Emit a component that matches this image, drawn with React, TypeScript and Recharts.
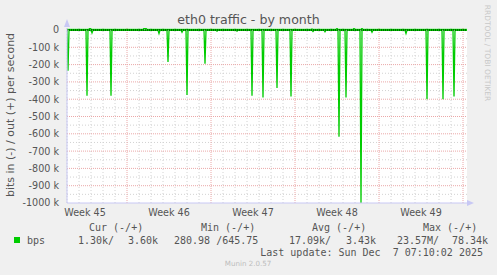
import * as React from "react";
import { LineChart, Line, XAxis, YAxis, CartesianGrid, ReferenceLine } from "recharts";

// time in hours from the left edge of the graph (2 h per sample), values in kbit/s
const inHours = [
  0, 2, 4, 38, 40, 42, 48, 50, 52, 86, 88, 90, 182, 184, 186, 200, 202, 204,
  228, 230, 232, 238, 240, 242, 274, 276, 278, 298, 300, 302, 338, 340, 342,
  368, 370, 372, 390, 392, 394, 418, 420, 422, 446, 448, 450, 490, 492, 494,
  514, 516, 518, 542, 544, 546, 556, 558, 560, 586, 588, 590, 608, 610, 612,
  676, 678, 680, 718, 720, 722, 750, 752, 754, 772, 774, 776, 800,
];
const inKbps = [
  -1.3, -235, -1.3, -1.3, -380, -1.3, -1.3, -17, -1.3, -1.3, -380, -1.3, -1.3, -20, -1.3, -1.3, -185, -1.3,
  -1.3, -13, -1.3, -1.3, -375, -1.3, -1.3, -195, -1.3, -1.3, -6, -1.3, -1.3, -6, -1.3,
  -1.3, -380, -1.3, -1.3, -390, -1.3, -1.3, -335, -1.3, -1.3, -385, -1.3, -1.3, -8, -1.3,
  -1.3, -10, -1.3, -1.3, -617, -1.3, -1.3, -390, -1.3, -1.3, -1000, -1.3, -1.3, -13, -1.3,
  -1.3, -20, -1.3, -1.3, -400, -1.3, -1.3, -400, -1.3, -1.3, -385, -1.3, -1.3,
];

const outHours = [0, 44, 46, 48, 152, 154, 156, 158, 160, 488, 490, 492, 538, 540, 542, 572, 574, 576, 588, 590, 592, 800];
const outKbps = [3.6, 3.6, 15, 3.6, 3.6, 10, 8, 10, 3.6, 3.6, 6, 3.6, 3.6, 10, 3.6, 3.6, 10, 3.6, 3.6, 10, 3.6, 3.6];

const weekLabels = ["Week 45", "Week 46", "Week 47", "Week 48", "Week 49"];
const weekLabelHours = [36, 204, 372, 540, 708];
const weekStartHours = [120, 288, 456, 624, 792];
const yTicks = [0, -100, -200, -300, -400, -500, -600, -700, -800, -900, -1000];

const legendHead = ["Cur (-/+)", "Min (-/+)", "Avg (-/+)", "Max (-/+)"];
const legendValues = ["1.30k/", "3.60k", "280.98 /645.75", "17.09k/", "3.43k", "23.57M/", "78.34k"];

const inData = inHours.map((t, i) => ({ t, v: inKbps[i] }));
const outData = outHours.map((t, i) => ({ t, v: outKbps[i] }));

const dayLines = Array.from({ length: 34 }, (_, i) => i * 24).filter((h) => !weekStartHours.includes(h));
const halfLines = yTicks.slice(0, 10).map((v) => v - 50);

const GREEN = "#00cc00";
const TEXT = "#555";
const AXIS = "#c8c8f4";

export default function App() {
  const mono = "'DejaVu Sans Mono', monospace";
  const legendX = [89, 201, 312, 423];
  const valueX = [78, 128, 174, 289, 346, 397, 452];
  return (
    <div style={{ position: "absolute", left: 0, top: 0, width: 497, height: 275, background: "#f0f0f0", fontFamily: "'DejaVu Sans', sans-serif" }}>
      <LineChart
        width={497}
        height={275}
        margin={{ top: 28, right: 30, bottom: 52, left: 7 }}
      >
        <CartesianGrid
          fill="#ffffff"
          stroke="#d2d2d2"
          strokeDasharray="1 2"
          verticalValues={dayLines}
          horizontalValues={halfLines}
        />
        <CartesianGrid
          stroke="#eba8a8"
          strokeDasharray="1 1"
          verticalValues={weekStartHours}
          horizontalValues={yTicks.slice(1, 10)}
        />
        <XAxis
          type="number"
          dataKey="t"
          domain={[0, 800]}
          allowDataOverflow
          ticks={weekLabelHours}
          tickFormatter={(v: number) => weekLabels[weekLabelHours.indexOf(v)] ?? ""}
          tickLine={false}
          tickSize={0}
          tickMargin={6}
          height={20}
          stroke={AXIS}
          tick={{ fill: TEXT, fontSize: 9.6 }}
        />
        <YAxis
          type="number"
          domain={[-1000, 11.6]}
          allowDataOverflow
          ticks={yTicks}
          interval={0}
          tickFormatter={(v: number) => (v === 0 ? "0" : `${v} k`)}
          tickLine={false}
          tickSize={0}
          tickMargin={8}
          width={60}
          stroke={AXIS}
          tick={{ fill: TEXT, fontSize: 9.6 }}
        />
        <Line data={outData} dataKey="v" type="linear" stroke={GREEN} strokeWidth={1.3} dot={false} isAnimationActive={false} />
        <Line data={inData} dataKey="v" type="linear" stroke={GREEN} strokeWidth={1.3} dot={false} isAnimationActive={false} />
        <ReferenceLine y={0} stroke="#000" strokeDasharray="1 1" strokeWidth={1} />
      </LineChart>
      <svg width={497} height={275} style={{ position: "absolute", left: 0, top: 0, pointerEvents: "none" }}>
        <text x={248.5} y={24} textAnchor="middle" fontSize={12.6} fill={TEXT}>
          eth0 traffic - by month
        </text>
        <text transform="translate(14,115) rotate(-90)" textAnchor="middle" fontSize={11} fill={TEXT}>
          bits in (-) / out (+) per second
        </text>
        <text transform="translate(485,53) rotate(90)" textAnchor="middle" fontSize={7.5} fill="#c8c8c8">
          RRDTOOL / TOBI OETIKER
        </text>
        <polygon points="64,27 70,27 67,19" fill={AXIS} />
        <polygon points="467,200 467,206 474,203" fill={AXIS} />
        {legendHead.map((h, i) => (
          <text key={h} x={legendX[i]} y={231} fontFamily={mono} fontSize={10} fill={TEXT} style={{ whiteSpace: "pre" }}>
            {h}
          </text>
        ))}
        <rect x={14} y={237} width={6} height={6} fill={GREEN} />
        <text x={27} y={244} fontFamily={mono} fontSize={10} fill={TEXT}>bps</text>
        {legendValues.map((v, i) => (
          <text key={i} x={valueX[i]} y={244} fontFamily={mono} fontSize={10} fill={TEXT} style={{ whiteSpace: "pre" }}>
            {v}
          </text>
        ))}
        <text x={483} y={256} textAnchor="end" fontFamily={mono} fontSize={10} fill={TEXT} style={{ whiteSpace: "pre" }}>
          {"Last update: Sun Dec  7 07:10:02 2025"}
        </text>
        <text x={248} y={266} textAnchor="middle" fontSize={7.1} fill="#bdbdbd">
          Munin 2.0.57
        </text>
      </svg>
    </div>
  );
}
